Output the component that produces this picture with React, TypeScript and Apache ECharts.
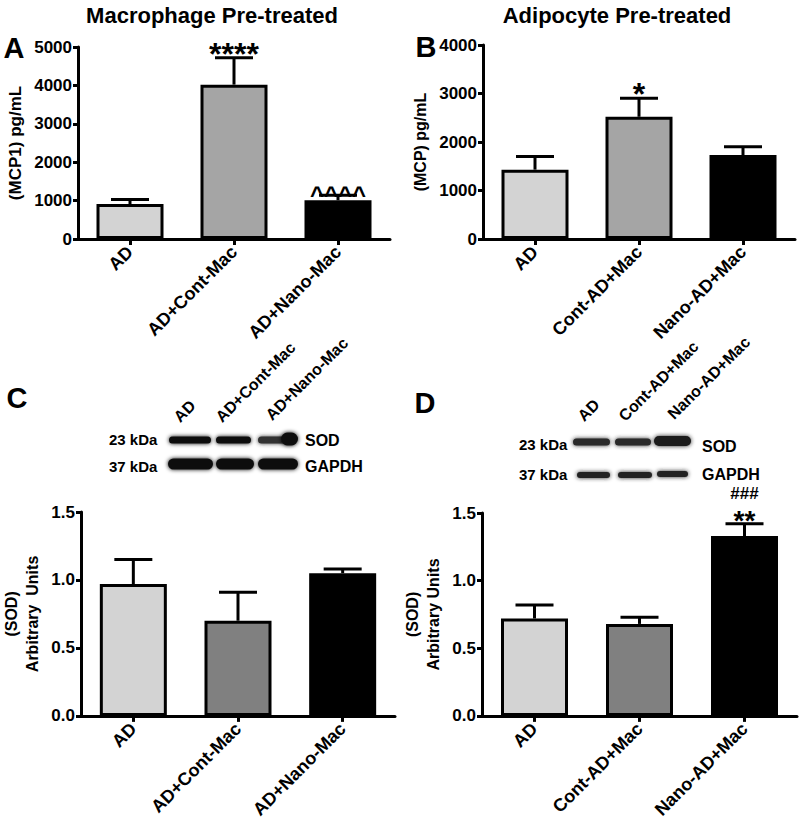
import React, { useEffect, useRef } from 'react';
import * as echarts from 'echarts';

// ---------- data ----------
const catsA = ['AD', 'AD+Cont-Mac', 'AD+Nano-Mac'];
const meanA = [910, 4020, 1010];
const errA = [1030, 4720, 1140];
const annotA = ['', '****', '^^^^'];

const catsB = ['AD', 'Cont-AD+Mac', 'Nano-AD+Mac'];
const meanB = [1430, 2520, 1730];
const errB = [1700, 2900, 1900];
const annotB = ['', '*', ''];

const catsC = ['AD', 'AD+Cont-Mac', 'AD+Nano-Mac'];
const meanC = [0.97, 0.7, 1.05];
const errC = [1.15, 0.91, 1.08];
const annotC = ['', '', ''];

const catsD = ['AD', 'Cont-AD+Mac', 'Nano-AD+Mac'];
const meanD = [0.72, 0.68, 1.33];
const errD = [0.82, 0.73, 1.42];
const annotD = ['', '', '**'];
const annotD2 = ['', '', '###'];

const blotLanesC = ['AD', 'AD+Cont-Mac', 'AD+Nano-Mac'];
const blotLanesD = ['AD', 'Cont-AD+Mac', 'Nano-AD+Mac'];
const blotMarkers = ['23 kDa', '37 kDa'];
const blotProteins = ['SOD', 'GAPDH'];

const colorsTop = ['#d3d3d3', '#a5a5a5', '#000000'];
const colorsBottom = ['#d3d3d3', '#808080', '#000000'];

const FONT = 'Arial, "Liberation Sans", Helvetica, sans-serif';

function annotStyle(t: string, stacked: boolean) {
  if (t.startsWith('*')) return stacked ? { fontSize: 28, dy: 3 } : { fontSize: 32, dy: 4 };
  if (t.startsWith('^')) return { fontSize: 24, dy: 1 };
  return { fontSize: 17, dy: 30 };
}

function makeErrRender(annot: string[], annot2?: string[]) {
  return (params: any, api: any) => {
    const i = api.value(0);
    const base = api.coord([i, api.value(1)]);
    const top = api.coord([i, api.value(2)]);
    const cap = 19;
    const children: any[] = [
      { type: 'line', shape: { x1: top[0], y1: base[1], x2: top[0], y2: top[1] }, style: { stroke: '#000', lineWidth: 3 } },
      { type: 'line', shape: { x1: top[0] - cap, y1: top[1], x2: top[0] + cap, y2: top[1] }, style: { stroke: '#000', lineWidth: 3 } },
    ];
    const t2 = annot2 ? annot2[params.dataIndex] : '';
    const list = [annot[params.dataIndex], t2];
    list.forEach((t) => {
      if (!t) return;
      const s = annotStyle(t, !!t2);
      children.push({
        type: 'text', x: top[0], y: top[1] - s.dy,
        style: { text: t, fontSize: s.fontSize, fontWeight: 'bold', fontFamily: FONT, fill: '#000', align: 'center', verticalAlign: 'middle' },
      });
    });
    return { type: 'group', children };
  };
}

const axisLine = { show: true, lineStyle: { color: '#000', width: 3 } };
const axisTickStyle = { color: '#000', width: 3 };

function xAxis(gridIndex: number, data: string[]) {
  return {
    type: 'category', gridIndex, data,
    axisLine,
    axisTick: { show: true, alignWithLabel: true, length: 6, lineStyle: axisTickStyle },
    axisLabel: { rotate: 45, margin: 10, interval: 0, fontSize: 18, fontWeight: 'bold', color: '#000', fontFamily: FONT },
    splitLine: { show: false },
  };
}

function yAxis(gridIndex: number, max: number, interval: number, name: string, nameGap: number, decimals: number, nameSize: number) {
  return {
    type: 'value', gridIndex, min: 0, max, interval,
    axisLine,
    axisTick: { show: true, length: 5, lineStyle: axisTickStyle },
    axisLabel: { margin: 6, fontSize: 17, fontWeight: 'bold', color: '#000', fontFamily: FONT, formatter: (v: number) => v.toFixed(decimals) },
    splitLine: { show: false },
    name, nameLocation: 'middle', nameGap, nameRotate: 90,
    nameTextStyle: { fontSize: nameSize, fontWeight: 'bold', color: '#000', fontFamily: FONT, lineHeight: 21 },
  };
}

function barSeries(idx: number, values: number[], colors: string[]) {
  return {
    type: 'bar', xAxisIndex: idx, yAxisIndex: idx, barWidth: 67,
    data: values.map((v, i) => ({ value: v, itemStyle: { color: colors[i], borderColor: '#000', borderWidth: 3 } })),
    z: 2,
  };
}

function errSeries(idx: number, mean: number[], err: number[], annot: string[], annot2?: string[]) {
  return {
    type: 'custom', xAxisIndex: idx, yAxisIndex: idx, z: 3,
    renderItem: makeErrRender(annot, annot2),
    encode: { x: 0, y: [1, 2] },
    data: mean.map((m, i) => [i, m, err[i]]),
  };
}

function band(x1: number, x2: number, yc: number, h: number, color = '#111') {
  return {
    type: 'rect',
    shape: { x: x1, y: yc - h / 2, width: x2 - x1, height: h, r: h / 2 },
    style: { fill: color, shadowBlur: 4, shadowColor: color },
  };
}

function txt(text: string, x: number, y: number, fontSize: number, align = 'left') {
  return {
    type: 'text', x, y,
    style: { text, fontSize, fontWeight: 'bold', fontFamily: FONT, fill: '#000', align, verticalAlign: 'middle' },
  };
}

function laneLabel(text: string, x: number, y: number) {
  return {
    type: 'text', x, y, rotation: Math.PI / 4,
    style: { text, fontSize: 16, fontWeight: 'bold', fontFamily: FONT, fill: '#000', align: 'left', verticalAlign: 'bottom' },
  };
}

export default function App() {
  const ref = useRef<HTMLDivElement>(null);
  useEffect(() => {
    if (!ref.current) return;
    const chart = echarts.init(ref.current, null, { renderer: 'svg' });
    const graphic: any[] = [
      txt('Macrophage Pre-treated', 212, 15, 22, 'center'),
      txt('Adipocyte Pre-treated', 617, 15, 22, 'center'),
      txt('A', 14, 48, 29, 'center'),
      txt('B', 426, 47, 29, 'center'),
      txt('C', 17, 398, 29, 'center'),
      txt('D', 425, 403, 29, 'center'),
      // blot C
      laneLabel(blotLanesC[0], 182, 425),
      laneLabel(blotLanesC[1], 224, 425),
      laneLabel(blotLanesC[2], 274, 423),
      txt(blotMarkers[0], 109, 439, 15),
      txt(blotMarkers[1], 109, 466, 15),
      txt(blotProteins[0], 305, 440, 16),
      txt(blotProteins[1], 305, 466, 16),
      band(169, 211, 440, 7),
      band(216, 251, 440, 7),
      band(258, 292, 440, 7, '#333'),
      band(281, 298, 439, 13),
      band(168, 213, 464, 11),
      band(216, 254, 464, 11),
      band(258, 298, 464, 11),
      // blot D
      laneLabel(blotLanesD[0], 586, 424),
      laneLabel(blotLanesD[1], 627, 424),
      laneLabel(blotLanesD[2], 676, 422),
      txt(blotMarkers[0], 519, 444, 15),
      txt(blotMarkers[1], 519, 474, 15),
      txt(blotProteins[0], 702, 446, 16),
      txt(blotProteins[1], 702, 474, 16),
      band(573, 610, 442, 7, '#2a2a2a'),
      band(615, 651, 442, 7, '#2a2a2a'),
      band(654, 691, 441, 10, '#1a1a1a'),
      band(577, 610, 475, 6, '#222'),
      band(618, 652, 475, 6, '#222'),
      band(657, 688, 474, 6, '#222'),
    ];
    chart.setOption({
      animation: false,
      backgroundColor: '#fff',
      textStyle: { fontFamily: FONT },
      grid: [
        { left: 78, top: 47, width: 312, height: 192 },
        { left: 483, top: 45, width: 312, height: 194 },
        { left: 80, top: 512, width: 315, height: 208 },
        { left: 482, top: 513, width: 315, height: 207 },
      ],
      xAxis: [xAxis(0, catsA), xAxis(1, catsB), xAxis(2, catsC), xAxis(3, catsD)],
      yAxis: [
        yAxis(0, 5000, 1000, '(MCP1) pg/mL', 52, 0, 17),
        yAxis(1, 4000, 1000, '(MCP) pg/mL', 52, 0, 16),
        yAxis(2, 1.5, 0.5, '(SOD)\nArbitrary  Units', 38, 1, 16),
        yAxis(3, 1.5, 0.5, '(SOD)\nArbitrary Units', 38, 1, 16),
      ],
      series: [
        barSeries(0, meanA, colorsTop),
        errSeries(0, meanA, errA, annotA),
        barSeries(1, meanB, colorsTop),
        errSeries(1, meanB, errB, annotB),
        barSeries(2, meanC, colorsBottom),
        errSeries(2, meanC, errC, annotC),
        barSeries(3, meanD, colorsBottom),
        errSeries(3, meanD, errD, annotD, annotD2),
      ],
      graphic,
    });
    return () => chart.dispose();
  }, []);
  return <div ref={ref} style={{ position: 'fixed', left: 0, top: 0, width: 800, height: 821, background: '#fff' }} />;
}
